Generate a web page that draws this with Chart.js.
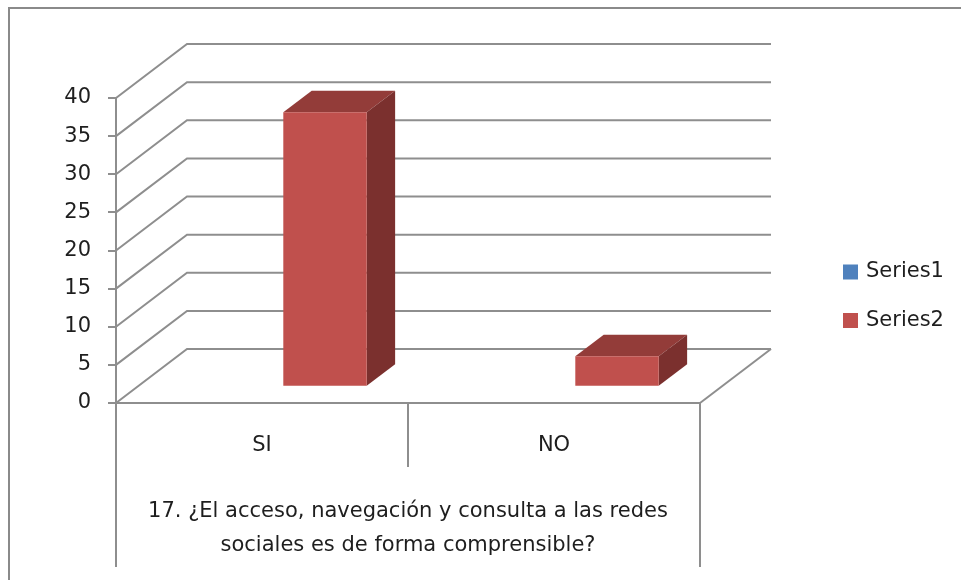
<!DOCTYPE html>
<html>
<head>
<meta charset="utf-8">
<script src="https://cdn.jsdelivr.net/npm/chart.js@4.4.1/dist/chart.umd.min.js"></script>
<style>
  html, body { margin: 0; padding: 0; background: #fff; }
  #wrap { width: 961px; height: 580px; }
</style>
</head>
<body>
<div id="wrap"><canvas id="myChart"></canvas></div>
<script>
const categories = ['SI', 'NO']
const series1 = [null, null]
const series2 = [36, 4]
const yTicks = [0, 5, 10, 15, 20, 25, 30, 35, 40]
const axisTitle = ['17. ¿El acceso, navegación y consulta a las redes', 'sociales es de forma comprensible?']

const FONT = "'DejaVu Sans', sans-serif"
const FONT_SIZE = 21
const TEXT = '#1e1e1e'
const LINE = '#8e8e8e'

// oblique depth of the plot box and where the columns sit inside it
const DEPTH = { x: 71, y: -54 }
const BAR_FRONT = 0.3
const BAR_DEPTH = 0.4

let myChart

function shade(ctx, pts, color) {
    ctx.beginPath()
    ctx.moveTo(pts[0][0], pts[0][1])
    for (let i = 1; i < pts.length; i++) ctx.lineTo(pts[i][0], pts[i][1])
    ctx.closePath()
    ctx.fillStyle = color
    ctx.fill()
}

const box3d = {
    id: 'box3d',
    beforeDraw(chart) {
        const ctx = chart.ctx
        ctx.save()
        ctx.strokeStyle = '#8a8a8a'
        ctx.lineWidth = 2
        ctx.strokeRect(9, 8, 1000, 1000)
        ctx.restore()
    },
    beforeDatasetsDraw(chart) {
        const ctx = chart.ctx
        const { left, right } = chart.chartArea
        const y = chart.scales.y
        ctx.save()
        ctx.strokeStyle = LINE
        ctx.lineWidth = 2
        // side wall diagonals + back wall lines
        yTicks.forEach(v => {
            const py = y.getPixelForValue(v)
            ctx.beginPath()
            ctx.moveTo(left, py)
            ctx.lineTo(left + DEPTH.x, py + DEPTH.y)
            ctx.lineTo(right + DEPTH.x, py + DEPTH.y)
            ctx.stroke()
        })
        // floor right edge
        const y0 = y.getPixelForValue(0)
        ctx.beginPath()
        ctx.moveTo(right, y0)
        ctx.lineTo(right + DEPTH.x, y0 + DEPTH.y)
        ctx.stroke()

        const fx = DEPTH.x * BAR_FRONT, fy = DEPTH.y * BAR_FRONT
        const bx = DEPTH.x * BAR_DEPTH, by = DEPTH.y * BAR_DEPTH
        chart.data.datasets.forEach((ds, i) => {
            const meta = chart.getDatasetMeta(i)
            meta.data.forEach((bar, j) => {
                if (ds.data[j] == null) return
                const p = bar.getProps(['x', 'y', 'base', 'width'], true)
                const x0 = p.x - p.width / 2 + fx, x1 = p.x + p.width / 2 + fx
                const t = p.y + fy, b = p.base + fy
                shade(ctx, [[x0, t], [x1, t], [x1 + bx, t + by], [x0 + bx, t + by]], ds.topColor)
                shade(ctx, [[x1, t], [x1 + bx, t + by], [x1 + bx, b + by], [x1, b]], ds.sideColor)
            })
        })
        ctx.restore()
        // front faces are drawn by Chart.js, pushed into the box
        ctx.save()
        ctx.translate(fx, fy)
    },
    afterDatasetsDraw(chart) {
        chart.ctx.restore()
    },
    afterDraw(chart) {
        const ctx = chart.ctx
        const x = chart.scales.x
        const { left, right, bottom } = chart.chartArea
        ctx.save()
        ctx.strokeStyle = LINE
        ctx.lineWidth = 2
        // category table below the floor
        const mid = (x.getPixelForValue(0) + x.getPixelForValue(1)) / 2
        ctx.beginPath()
        ctx.moveTo(left, bottom); ctx.lineTo(left, 567)
        ctx.moveTo(right, bottom); ctx.lineTo(right, 567)
        ctx.moveTo(mid, bottom); ctx.lineTo(mid, 467)
        ctx.stroke()

        // legend
        ctx.font = FONT_SIZE + 'px ' + FONT
        ctx.textBaseline = 'middle'
        ctx.textAlign = 'left'
        chart.data.datasets.forEach((ds, i) => {
            const cy = 272 + i * 48.5
            ctx.fillStyle = ds.backgroundColor
            ctx.fillRect(843, cy - 7.5, 15, 15)
            ctx.fillStyle = TEXT
            ctx.fillText(ds.label, 866, cy)
        })
        ctx.restore()
    }
}

const canvas = document.getElementById('myChart')

const config = {
    type: 'bar',
    data: {
        labels: categories,
        datasets: [
            { label: 'Series1', data: series1, backgroundColor: '#4F81BD', topColor: '#3b618e', sideColor: '#324f75' },
            { label: 'Series2', data: series2, backgroundColor: '#C0504D', topColor: '#933c39', sideColor: '#7b302e' }
        ]
    },
    options: {
        responsive: false,
        animation: false,
        devicePixelRatio: 1,
        layout: {
            padding: { top: 98, right: 261, bottom: 0, left: 0 }
        },
        datasets: {
            bar: { categoryPercentage: 2 / 3.5, barPercentage: 1, clip: false }
        },
        plugins: {
            legend: { display: false },
            tooltip: { enabled: false }
        },
        scales: {
            x: {
                grid: { display: false, drawTicks: false },
                border: { display: true, color: LINE, width: 2 },
                ticks: { font: { family: FONT, size: FONT_SIZE }, color: TEXT, padding: 30 },
                title: {
                    display: true,
                    text: axisTitle,
                    font: { family: FONT, size: FONT_SIZE, lineHeight: 1.62 },
                    color: TEXT,
                    padding: { top: 0, bottom: 17 }
                },
                afterFit(scale) { scale.height = 177 }
            },
            y: {
                min: 0,
                max: 40,
                afterBuildTicks(scale) { scale.ticks = yTicks.map(v => ({ value: v })) },
                grid: { drawOnChartArea: false, tickLength: 8, color: LINE, lineWidth: 2 },
                border: { display: true, color: LINE, width: 2 },
                ticks: { font: { family: FONT, size: FONT_SIZE }, color: TEXT, padding: 17 },
                afterFit(scale) { scale.width = 116 }
            }
        }
    },
    plugins: [box3d]
}

canvas.width = 961
canvas.height = 580
if (canvas) {
    myChart = new Chart(canvas, config)
}
</script>
</body>
</html>
